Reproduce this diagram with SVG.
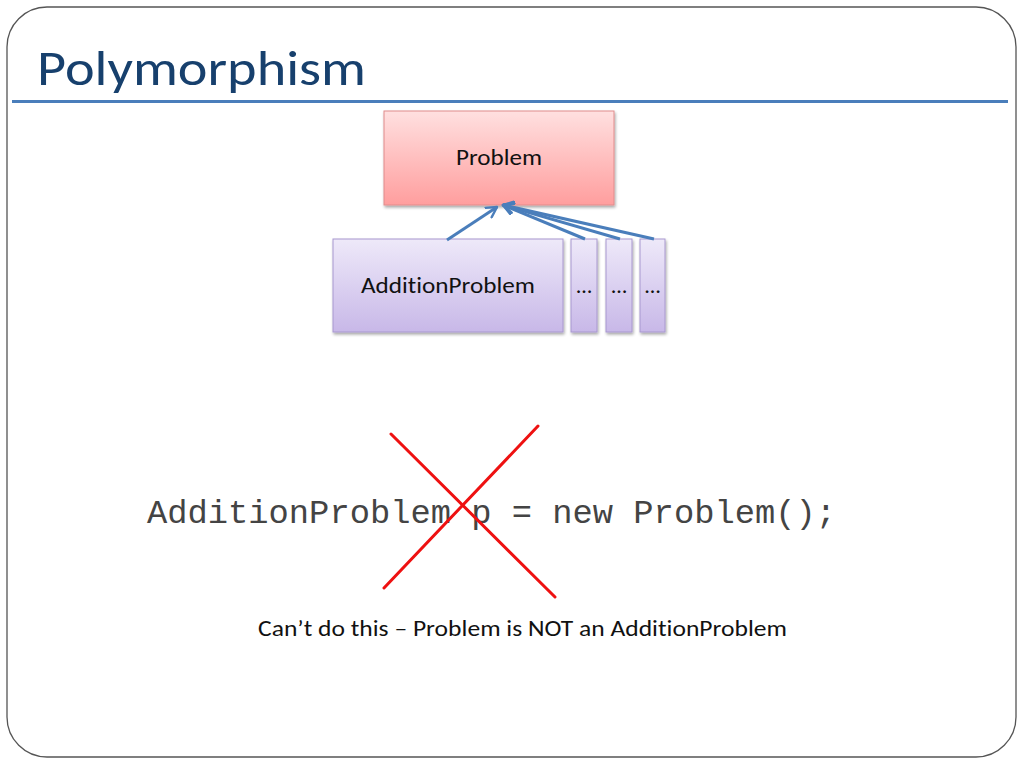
<svg xmlns="http://www.w3.org/2000/svg" width="1024" height="768" viewBox="0 0 1024 768">
<defs>
<linearGradient id="gRed" x1="0" y1="0" x2="0" y2="1">
<stop offset="0" stop-color="#ffe0e0"/>
<stop offset="1" stop-color="#ff9e9e"/>
</linearGradient>
<linearGradient id="gPur" x1="0" y1="0" x2="0" y2="1">
<stop offset="0" stop-color="#eee9f9"/>
<stop offset="1" stop-color="#c8b8e8"/>
</linearGradient>
<filter id="sh" x="-10%" y="-10%" width="130%" height="130%">
<feGaussianBlur in="SourceAlpha" stdDeviation="1.5"/>
<feOffset dx="1" dy="2" result="b"/>
<feComponentTransfer><feFuncA type="linear" slope="0.35"/></feComponentTransfer>
<feMerge><feMergeNode/><feMergeNode in="SourceGraphic"/></feMerge>
</filter>
<marker id="arr" viewBox="0 0 12 12" refX="10" refY="6" markerWidth="4.5" markerHeight="4.5" orient="auto" markerUnits="strokeWidth">
<path d="M1,1 L10,6 L1,11" fill="none" stroke="#4a7ebb" stroke-width="2.2" stroke-linecap="round" stroke-linejoin="round"/>
</marker>
</defs>
<style>
text{font-variant-ligatures:none}
.lbl{font-family:Calibri,Carlito,"Open Sans","Liberation Sans",sans-serif;font-size:22px;fill:#111;text-anchor:middle}
.con{stroke:#4a7ebb;stroke-width:3;fill:none;marker-end:url(#arr)}
.pur{fill:url(#gPur);stroke:#a898cf;stroke-width:1}
</style>
<rect x="0" y="0" width="1024" height="768" fill="#ffffff"/>
<path d="M47,7 H976 A40,40 0 0 1 1016,47 V717 A40,40 0 0 1 976,757 H47 A40,40 0 0 1 7,717 V47 A40,40 0 0 1 47,7 Z" fill="none" stroke="#555" stroke-width="1.3"/>
<text x="37" y="85" font-family="Calibri,Carlito,'Open Sans','Liberation Sans',sans-serif" font-size="49" fill="#17406d" textLength="329" lengthAdjust="spacingAndGlyphs">Polymorphism</text>
<line x1="12" y1="101.5" x2="1008" y2="101.5" stroke="#4a7ebb" stroke-width="3"/>
<g id="problem">
<rect x="384" y="111" width="230" height="94" fill="url(#gRed)" stroke="#e08c8c" stroke-width="1" filter="url(#sh)"/>
<text class="lbl" x="499" y="165" textLength="86" lengthAdjust="spacingAndGlyphs">Problem</text>
</g>
<g id="additionProblem">
<rect class="pur" x="333" y="239" width="230" height="93" filter="url(#sh)"/>
<text class="lbl" x="448" y="293" textLength="174" lengthAdjust="spacingAndGlyphs">AdditionProblem</text>
</g>
<g id="sub2">
<rect class="pur" x="571" y="239" width="26" height="93" filter="url(#sh)"/>
<text class="lbl" x="584" y="293">…</text>
</g>
<g id="sub3">
<rect class="pur" x="606" y="239" width="26" height="93" filter="url(#sh)"/>
<text class="lbl" x="619" y="293">…</text>
</g>
<g id="sub4">
<rect class="pur" x="640" y="239" width="25" height="93" filter="url(#sh)"/>
<text class="lbl" x="652.5" y="293">…</text>
</g>
<g id="connectors">
<line class="con" x1="447" y1="240" x2="497" y2="207"/>
<line class="con" x1="585" y1="239" x2="503" y2="205"/>
<line class="con" x1="620" y1="239" x2="503" y2="205"/>
<line class="con" x1="654" y1="239" x2="503" y2="205"/>
</g>
<text x="147" y="523" font-family="'Liberation Mono','Courier New',monospace" font-size="34" fill="#444" textLength="689" lengthAdjust="spacingAndGlyphs">AdditionProblem p = new Problem();</text>
<g id="cross" stroke="#ee1111" stroke-width="3" stroke-linecap="round">
<line x1="391" y1="434" x2="555" y2="597"/>
<line x1="538" y1="426" x2="384" y2="588"/>
</g>
<text x="258" y="636" font-family="Calibri,Carlito,'Open Sans','Liberation Sans',sans-serif" font-size="23" fill="#111" textLength="529" lengthAdjust="spacingAndGlyphs">Can’t do this – Problem is NOT an AdditionProblem</text>
</svg>
